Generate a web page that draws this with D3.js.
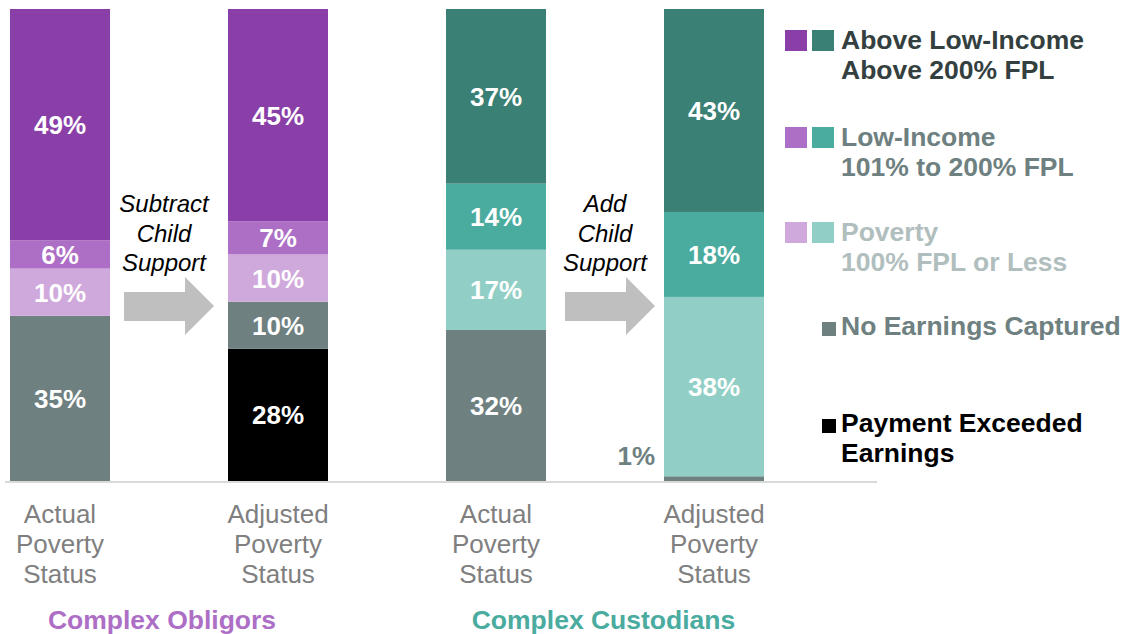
<!DOCTYPE html>
<html>
<head>
<meta charset="utf-8">
<script src="https://cdn.jsdelivr.net/npm/d3@7"></script>
<style>
  body { margin: 0; background: #fff; }
  svg, svg text { font-family: Arial, "Liberation Sans", Helvetica, sans-serif; }
</style>
</head>
<body>
<div id="chart"></div>
<script>
// bars, left to right
var bars = ["oblActual", "oblAdjusted", "cusActual", "cusAdjusted"];
var barGroup = ["obl", "obl", "cus", "cus"];
var barLabel = [["Actual", "Poverty", "Status"], ["Adjusted", "Poverty", "Status"],
                ["Actual", "Poverty", "Status"], ["Adjusted", "Poverty", "Status"]];

// series, bottom to top
var keys = ["exceeded", "noEarnings", "poverty", "lowIncome", "aboveLow"];
var exceeded   = [0, 28, 0, 0];
var noEarnings = [35, 10, 32, 1];
var poverty    = [10, 10, 17, 38];
var lowIncome  = [6, 7, 14, 18];
var aboveLow   = [49, 45, 37, 43];

var groupNames = ["Complex Obligors", "Complex Custodians"];
var arrowText = [["Subtract", "Child", "Support"], ["Add", "Child", "Support"]];

var colors = {
  obl: { aboveLow: "#8a3fa8", lowIncome: "#ad6fc6", poverty: "#d0a9dc", noEarnings: "#6e8080", exceeded: "#000000" },
  cus: { aboveLow: "#3a8074", lowIncome: "#4aab9f", poverty: "#91cfc6", noEarnings: "#6e8080", exceeded: "#000000" }
};

var width = 1127, height = 634;
var svg = d3.select("#chart").append("svg")
  .attr("width", width)
  .attr("height", height);

var table = bars.map(function(b, i) {
  return { bar: b, group: barGroup[i], exceeded: exceeded[i], noEarnings: noEarnings[i],
           poverty: poverty[i], lowIncome: lowIncome[i], aboveLow: aboveLow[i] };
});
var series = d3.stack().keys(keys)(table);

var x = d3.scalePoint().domain(bars).range([60, 714]);
var barW = 100;
var y = d3.scaleLinear().domain([0, 100]).range([481, 9]);

// baseline
svg.append("line")
  .attr("x1", 5).attr("x2", 877)
  .attr("y1", 482).attr("y2", 482)
  .attr("stroke", "#d9d9d9").attr("stroke-width", 2);

var layer = svg.selectAll(".layer").data(series).enter()
  .append("g").attr("class", "layer");

layer.selectAll("rect").data(function(s) {
    return s.map(function(d) { return { key: s.key, d: d }; });
  }).enter()
  .append("rect")
    .attr("x", function(p) { return x(p.d.data.bar) - barW / 2; })
    .attr("width", barW)
    .attr("y", function(p) { return y(p.d[1]); })
    .attr("height", function(p) { return y(p.d[0]) - y(p.d[1]); })
    .attr("fill", function(p) { return colors[p.d.data.group][p.key]; });

layer.selectAll("text").data(function(s) {
    return s.map(function(d) { return { key: s.key, d: d }; })
      .filter(function(p) { return p.d[1] - p.d[0] > 0; });
  }).enter()
  .append("text")
    .attr("x", function(p) {
      var small = p.d[1] - p.d[0] < 3;
      return small ? x(p.d.data.bar) - barW / 2 - 9 : x(p.d.data.bar);
    })
    .attr("y", function(p) {
      var small = p.d[1] - p.d[0] < 3;
      var mid = y((p.d[0] + p.d[1]) / 2);
      return small ? mid - 14 : mid + 9.5;
    })
    .attr("text-anchor", function(p) { return p.d[1] - p.d[0] < 3 ? "end" : "middle"; })
    .attr("font-size", 26)
    .attr("font-weight", "bold")
    .attr("fill", function(p) { return p.d[1] - p.d[0] < 3 ? "#6e8080" : "#fff"; })
    .text(function(p) { return Math.round(p.d[1] - p.d[0]) + "%"; });

// category labels
bars.forEach(function(b, i) {
  var t = svg.append("text")
    .attr("text-anchor", "middle")
    .attr("font-size", 26)
    .attr("fill", "#7f7f7f");
  barLabel[i].forEach(function(line, j) {
    t.append("tspan").attr("x", x(b)).attr("y", 523 + j * 30).text(line);
  });
});

// group labels and arrows
var arrowGap = [14, 19];
var groupShift = [-7, -1.5];
[["oblActual", "oblAdjusted"], ["cusActual", "cusAdjusted"]].forEach(function(pair, g) {
  var cx = (x(pair[0]) + x(pair[1])) / 2;
  svg.append("text")
    .attr("x", cx + groupShift[g]).attr("y", 629)
    .attr("text-anchor", "middle")
    .attr("font-size", 26.5)
    .attr("font-weight", "bold")
    .attr("fill", g === 0 ? colors.obl.lowIncome : colors.cus.lowIncome)
    .text(groupNames[g]);

  var x0 = x(pair[0]) + barW / 2 + arrowGap[g];
  var arrow = [[x0, 292], [x0 + 61, 292], [x0 + 61, 277], [x0 + 90, 306],
               [x0 + 61, 335], [x0 + 61, 321], [x0, 321]];
  svg.append("path")
    .attr("d", d3.line()(arrow) + "Z")
    .attr("fill", "#bfbfbf");

  var t = svg.append("text")
    .attr("text-anchor", "middle")
    .attr("font-size", 24)
    .attr("font-style", "italic")
    .attr("fill", "#000");
  arrowText[g].forEach(function(line, j) {
    t.append("tspan").attr("x", x0 + 40).attr("y", 212 + j * 29.5).text(line);
  });
});

// legend
var legend = [
  { key: "aboveLow", lines: ["Above Low-Income", "Above 200% FPL"], color: "#343f3f", y: 30, big: true },
  { key: "lowIncome", lines: ["Low-Income", "101% to 200% FPL"], color: "#6e8080", y: 127, big: true },
  { key: "poverty", lines: ["Poverty", "100% FPL or Less"], color: "#b1bebe", y: 222, big: true },
  { key: "noEarnings", lines: ["No Earnings Captured"], color: "#6e8080", y: 316, big: false },
  { key: "exceeded", lines: ["Payment Exceeded", "Earnings"], color: "#000", y: 413, big: false }
];
var lg = svg.append("g");
legend.forEach(function(item) {
  var k = item.key;
  if (item.big) {
    lg.append("rect").attr("x", 785).attr("y", item.y).attr("width", 22).attr("height", 21)
      .attr("fill", colors.obl[k]);
    lg.append("rect").attr("x", 812).attr("y", item.y).attr("width", 22).attr("height", 21)
      .attr("fill", colors.cus[k]);
  } else {
    lg.append("rect").attr("x", 822).attr("y", item.y + 6).attr("width", 14).attr("height", 14)
      .attr("fill", colors.obl[k]);
  }
  var t = lg.append("text")
    .attr("font-size", 26.5)
    .attr("font-weight", "bold")
    .attr("fill", item.color);
  item.lines.forEach(function(line, j) {
    t.append("tspan").attr("x", 841).attr("y", item.y + 19 + j * 30).text(line);
  });
});
</script>
</body>
</html>
